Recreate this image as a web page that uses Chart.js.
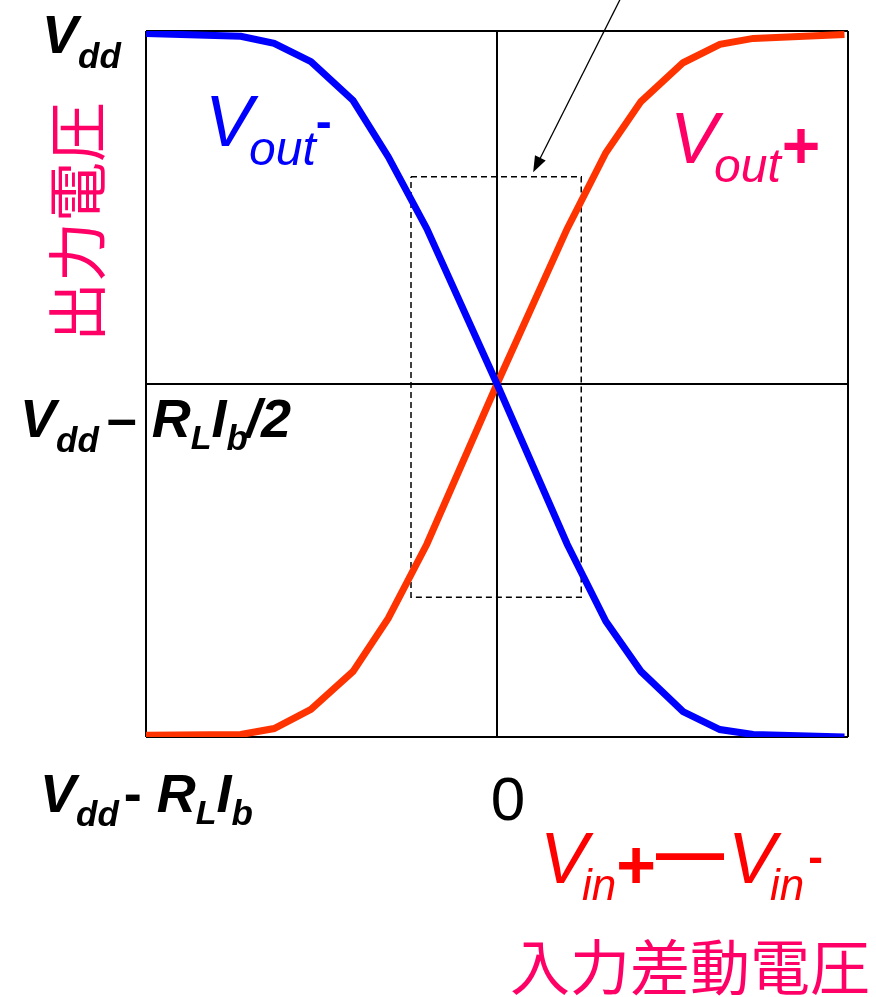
<!DOCTYPE html>
<html>
<head>
<meta charset="utf-8">
<script src="https://cdn.jsdelivr.net/npm/chart.js@4.4.0/dist/chart.umd.min.js"></script>
<style>
  html, body { margin: 0; padding: 0; background: #fff; }
  #wrap { width: 876px; height: 997px; }
</style>
</head>
<body>
<div id="wrap"><canvas id="c" width="876" height="997"></canvas></div>
<script>
// differential input voltage (normalised -1 .. 1, 0 in the middle)
var vin = [-1.0, -0.73, -0.635, -0.53, -0.41, -0.31, -0.20, 0, 0.20, 0.31, 0.41, 0.53, 0.635, 0.73, 0.99];
// output voltages: 1 = Vdd, 0 = Vdd - RL*Ib/2, -1 = Vdd - RL*Ib
var voutMinus = [0.993, 0.985, 0.965, 0.913, 0.803, 0.644, 0.44, 0, -0.454, -0.672, -0.814, -0.928, -0.979, -0.993, -1.0];
var voutPlus = [-0.995, -0.993, -0.976, -0.922, -0.814, -0.664, -0.454, 0, 0.44, 0.655, 0.80, 0.91, 0.962, 0.979, 0.99];
// dashed box round the linear region
var boxX = [-0.245, 0.24, 0.24, -0.245, -0.245];
var boxY = [0.587, 0.587, -0.604, -0.604, 0.587];
// arrow pointing at the box (from, to)
var arrowFrom = [0.356, 1.10];
var arrowTo = [0.103, 0.60];
var axisTicks = [-1, 0, 1];

function pts(xs, ys) {
    return xs.map(function (x, i) { return { x: x, y: ys[i] }; });
}

var F = '"Liberation Sans", Arial, sans-serif';
var JP = '"Noto Sans CJK JP", "Noto Sans CJK SC", sans-serif';

// draws a row of text pieces (for subscripts / superscripts)
function rich(ctx, x, y, color, parts) {
    ctx.fillStyle = color;
    ctx.textAlign = 'left';
    ctx.textBaseline = 'alphabetic';
    parts.forEach(function (p) {
        x += (p.dx || 0);
        ctx.font = p.f;
        ctx.fillText(p.t, x, y + (p.dy || 0));
        x += ctx.measureText(p.t).width;
    });
}

var labels = {
    id: 'labels',
    afterDatasetsDraw: function (chart) {
        var ctx = chart.ctx;
        var xs = chart.scales.x, ys = chart.scales.y;

        // arrow
        var x0 = xs.getPixelForValue(arrowFrom[0]), y0 = ys.getPixelForValue(arrowFrom[1]);
        var x1 = xs.getPixelForValue(arrowTo[0]), y1 = ys.getPixelForValue(arrowTo[1]);
        var a = Math.atan2(y1 - y0, x1 - x0);
        ctx.save();
        ctx.strokeStyle = '#000';
        ctx.fillStyle = '#000';
        ctx.lineWidth = 1.3;
        ctx.beginPath();
        ctx.moveTo(x0, y0);
        ctx.lineTo(x1 - 12 * Math.cos(a), y1 - 12 * Math.sin(a));
        ctx.stroke();
        ctx.beginPath();
        ctx.moveTo(x1, y1);
        ctx.lineTo(x1 - 16 * Math.cos(a) + 6 * Math.sin(a), y1 - 16 * Math.sin(a) - 6 * Math.cos(a));
        ctx.lineTo(x1 - 16 * Math.cos(a) - 6 * Math.sin(a), y1 - 16 * Math.sin(a) + 6 * Math.cos(a));
        ctx.closePath();
        ctx.fill();

        var bi54 = 'italic bold 54px ' + F, bi35 = 'italic bold 35px ' + F;

        // y labels
        rich(ctx, 42, 53, '#000', [
            { t: 'V', f: bi54 }, { t: 'dd', f: bi35, dy: 15 }
        ]);
        rich(ctx, 20, 437, '#000', [
            { t: 'V', f: bi54 }, { t: 'dd', f: bi35, dy: 15 },
            { t: '– ', f: 'bold 54px ' + F, dx: 8 },
            { t: 'R', f: bi54 }, { t: 'L', f: 'italic bold 34px ' + F, dy: 12 },
            { t: 'I', f: bi54 }, { t: 'b', f: bi35, dy: 13 },
            { t: '/2', f: bi54, dx: -2 }
        ]);
        rich(ctx, 40, 812, '#000', [
            { t: 'V', f: bi54 }, { t: 'dd', f: bi35, dy: 14 },
            { t: '- ', f: 'bold 54px ' + F, dx: 5 },
            { t: 'R', f: bi54 }, { t: 'L', f: 'italic bold 34px ' + F, dy: 12 },
            { t: 'I', f: bi54 }, { t: 'b', f: bi35, dy: 13 }
        ]);

        // zero
        ctx.font = '62px ' + F;
        ctx.fillStyle = '#000';
        ctx.textAlign = 'center';
        ctx.fillText('0', xs.getPixelForValue(0) + 11, 820);

        // curve names
        rich(ctx, 205, 146, '#0000FF', [
            { t: 'V', f: 'italic 72px ' + F },
            { t: 'out', f: 'italic 48px ' + F, dy: 19, dx: -4 },
            { t: '-', f: 'bold 48px ' + F, dy: -8 }
        ]);
        rich(ctx, 670, 163, '#FF0066', [
            { t: 'V', f: 'italic 72px ' + F },
            { t: 'out', f: 'italic 48px ' + F, dy: 19, dx: -4 },
            { t: '+', f: 'bold 66px ' + F, dy: 5, dx: 1 }
        ]);

        // x label
        rich(ctx, 540, 883, '#FF0000', [
            { t: 'V', f: 'italic 72px ' + F },
            { t: 'in', f: 'italic 44px ' + F, dy: 17, dx: -6 },
            { t: '+', f: 'bold 68px ' + F, dy: 5 },
            { t: '—', f: 'bold 68px ' + F, dy: -8 },
            { t: 'V', f: 'italic 72px ' + F, dx: 4 },
            { t: 'in', f: 'italic 44px ' + F, dy: 17, dx: -6 },
            { t: '-', f: 'bold 44px ' + F, dy: -11, dx: 4 }
        ]);

        ctx.fillStyle = '#FF0066';
        ctx.font = '60px ' + JP;
        ctx.textAlign = 'left';
        ctx.textBaseline = 'alphabetic';
        ctx.fillText('入力差動電圧', 510, 990);

        ctx.translate(77, 222);
        ctx.rotate(-Math.PI / 2);
        ctx.textAlign = 'center';
        ctx.textBaseline = 'middle';
        ctx.fillText('出力電圧', 0, 0);
        ctx.restore();
    }
};

var ctx = document.getElementById('c').getContext('2d');
var chart = new Chart(ctx, {
    type: 'scatter',
    data: {
        datasets: [
            {
                label: 'Vout-',
                data: pts(vin, voutMinus),
                showLine: true,
                borderColor: '#0000FF',
                borderWidth: 7,
                pointRadius: 0,
                order: 1
            },
            {
                label: 'Vout+',
                data: pts(vin, voutPlus),
                showLine: true,
                borderColor: '#FF3300',
                borderWidth: 7,
                pointRadius: 0,
                order: 2
            },
            {
                label: 'box',
                data: pts(boxX, boxY),
                showLine: true,
                borderColor: '#000',
                borderWidth: 1.5,
                borderDash: [6, 4],
                pointRadius: 0,
                order: 3
            }
        ]
    },
    options: {
        responsive: false,
        animation: false,
        devicePixelRatio: 1,
        layout: { padding: { left: 146, right: 28, top: 31, bottom: 260 } },
        plugins: { legend: { display: false }, tooltip: { enabled: false } },
        scales: {
            x: {
                type: 'linear', min: -1, max: 1,
                afterBuildTicks: function (s) { s.ticks = axisTicks.map(function (v) { return { value: v }; }); },
                ticks: { display: false },
                grid: { color: '#000', lineWidth: 2, drawTicks: false },
                border: { display: false }
            },
            y: {
                type: 'linear', min: -1, max: 1,
                afterBuildTicks: function (s) { s.ticks = axisTicks.map(function (v) { return { value: v }; }); },
                ticks: { display: false },
                grid: { color: '#000', lineWidth: 2, drawTicks: false },
                border: { display: false }
            }
        }
    },
    plugins: [labels]
});
</script>
</body>
</html>
